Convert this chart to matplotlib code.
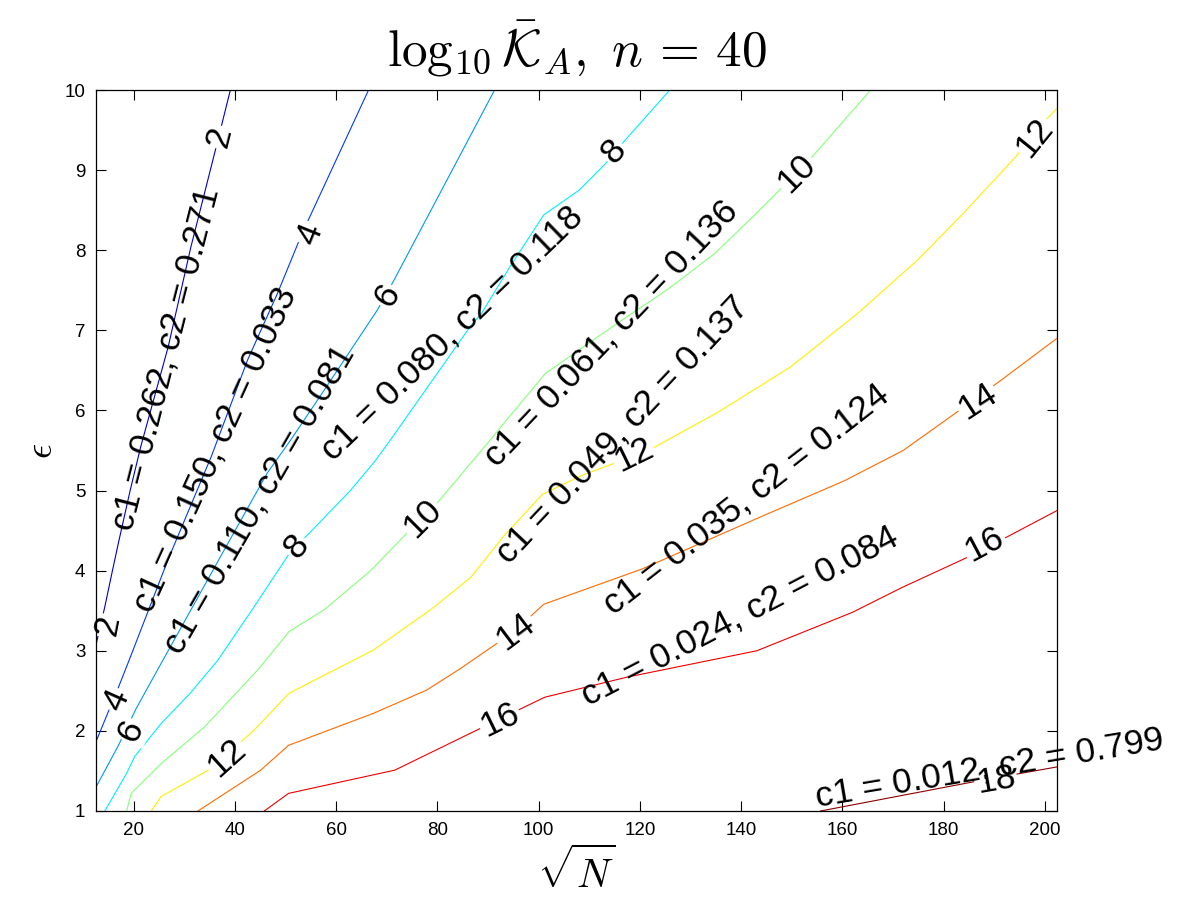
import matplotlib
matplotlib.use("Agg")
import matplotlib.pyplot as plt

plt.rcParams['mathtext.fontset'] = 'cm'
plt.rcParams['font.family'] = ['Liberation Sans', 'DejaVu Sans']

# ---------------- data ----------------
levels = [2, 4, 6, 8, 10, 12, 14, 16, 18]

x_2 = [12.65, 14.3, 15.8, 17.1, 19.3, 21.4, 26.8, 31.3, 36.3, 39.1]
y_2 = [3.10, 3.55, 4.00, 4.38, 5.00, 5.55, 6.79, 8.04, 9.29, 10.0]

x_4 = [12.65, 14.6, 16.9, 18.9, 22.7, 26.8, 35.3, 42.5, 48.4, 53.2, 66.4]
y_4 = [1.88, 2.18, 2.53, 2.85, 3.47, 4.14, 5.42, 6.63, 7.46, 8.20, 10.0]

x_6 = [12.65, 17.0, 20.5, 25.4, 31.3, 37.9, 46.4, 51.0, 57.6, 68.1, 70.7, 91.3]
y_6 = [1.31, 1.82, 2.28, 2.84, 3.51, 4.26, 5.22, 5.63, 6.25, 7.25, 7.54, 10.0]

x_8 = [14.3, 18.6, 20.2, 25.4, 31.3, 36.6, 43.8, 50.6, 62.8, 67.7, 70.7, 86.4, 88.7,
       94.3, 101.0, 108.0, 113.2, 116.2, 125.9]
y_8 = [1.00, 1.47, 1.68, 2.09, 2.48, 2.88, 3.55, 4.20, 5.00, 5.37, 5.63, 7.04, 7.21,
       7.79, 8.44, 8.75, 9.08, 9.31, 10.0]

x_10 = [18.6, 19.5, 25.4, 34.0, 44.5, 50.7, 57.6, 66.8, 74.0, 79.9, 88.7, 90.4, 101.3,
        111.7, 118.4, 125.9, 134.8, 143.0, 148.2, 153.4, 165.6]
y_10 = [1.00, 1.22, 1.59, 2.05, 2.76, 3.24, 3.51, 4.00, 4.47, 4.84, 5.50, 5.63, 6.46,
        6.92, 7.21, 7.53, 7.96, 8.46, 8.79, 9.12, 10.0]

x_12 = [23.5, 25.4, 35.3, 43.8, 50.7, 67.4, 78.6, 86.5, 93.1, 100.7, 108.2, 122.0,
        135.5, 149.7, 163.0, 174.9, 183.9, 194.3, 199.5, 202.4]
y_12 = [1.00, 1.18, 1.53, 2.01, 2.47, 3.01, 3.51, 3.91, 4.43, 4.95, 5.18, 5.51,
        5.98, 6.54, 7.21, 7.88, 8.46, 9.17, 9.58, 9.77]

x_14 = [32.7, 45.1, 50.6, 67.4, 77.9, 84.6, 92.4, 97.7, 101.0, 108.9, 120.4, 143.8,
        160.5, 172.0, 183.1, 191.3, 202.4]
y_14 = [1.00, 1.51, 1.82, 2.22, 2.51, 2.78, 3.12, 3.39, 3.58, 3.76, 4.02, 4.67,
        5.125, 5.50, 6.00, 6.375, 6.90]

x_16 = [45.8, 50.6, 71.6, 89.1, 101.2, 117.4, 143.1, 162.0, 171.8, 186.2, 202.4]
y_16 = [1.00, 1.22, 1.51, 2.05, 2.42, 2.67, 3.00, 3.48, 3.79, 4.21, 4.75]

x_18 = [155.7, 186.4, 202.4]
y_18 = [1.00, 1.37, 1.55]

line_xs = [x_2, x_4, x_6, x_8, x_10, x_12, x_14, x_16, x_18]
line_ys = [y_2, y_4, y_6, y_8, y_10, y_12, y_14, y_16, y_18]

# inline contour level labels
lab_text = ['2', '2', '4', '4', '6', '6', '8', '8', '10', '10',
            '12', '12', '12', '14', '14', '16', '16', '18']
lab_x = [37.0, 14.8, 54.8, 16.7, 70.1, 19.4, 114.9, 52.2, 151.0, 77.1,
         198.0, 118.7, 38.3, 186.7, 95.4, 188.0, 92.3, 190.3]
lab_y = [9.41, 3.31, 8.20, 2.38, 7.43, 2.00, 9.23, 4.30, 8.96, 4.65,
         9.41, 5.45, 1.67, 6.12, 3.24, 4.33, 2.14, 1.39]
lab_rot = [76, 79, 68, 66, 58, 65, 49, 50, 45, 45,
           51, 26, 42, 33, 37, 28, 26, 10]

# c1 / c2 annotations
c1_vals = ['0.262', '0.150', '0.110', '0.080', '0.061', '0.049', '0.035', '0.024', '0.012']
c2_vals = ['0.271', '0.033', '0.081', '0.118', '0.136', '0.137', '0.124', '0.084', '0.799']
ann_x = [26.3, 36.1, 44.8, 83.0, 114.3, 116.5, 141.0, 139.7, 189.0]
ann_y = [6.64, 5.51, 4.89, 6.96, 6.96, 5.76, 4.89, 3.43, 1.54]
ann_rot = [75.7, 65.6, 60.0, 44.0, 46.5, 46.8, 38.0, 27.5, 9.5]

x_ticks = [20, 40, 60, 80, 100, 120, 140, 160, 180, 200]
y_ticks = [1, 2, 3, 4, 5, 6, 7, 8, 9, 10]

# ---------------- style ----------------
level_colors = ['#0000cc', '#0038ff', '#0095ff', '#00eeff', '#85ff7a',
                '#ffee00', '#ff6a00', '#ee0000', '#8c0000']

fig = plt.figure(figsize=(12, 9.01), dpi=100)
ax = fig.add_axes([0.0804, 0.0999, 0.8004, 0.8002])

for xs, ys, col in zip(line_xs, line_ys, level_colors):
    ax.plot(xs, ys, color=col, lw=0.8, zorder=2)

for t, x, y, r in zip(lab_text, lab_x, lab_y, lab_rot):
    ax.text(x, y, t, fontsize=25.5, rotation=r, rotation_mode='anchor',
            ha='center', va='center', zorder=3,
            bbox=dict(boxstyle='square,pad=0.05', fc='white', ec='none'))

for c1, c2, x, y, r in zip(c1_vals, c2_vals, ann_x, ann_y, ann_rot):
    ax.text(x, y, f'c1 = {c1}, c2 = {c2}', fontsize=25.5, rotation=r,
            rotation_mode='anchor', ha='center', va='center', zorder=4)

ax.set_xlim(12.65, 202.4)
ax.set_ylim(1, 10)
ax.set_xticks(x_ticks)
ax.set_yticks(y_ticks)
ax.tick_params(direction='in', top=True, right=True, length=7, width=0.8,
               labelsize=13.5, pad=8)
for s in ax.spines.values():
    s.set_linewidth(0.9)
    s.set_zorder(5)

ax.set_title(r'$\log_{10}\bar{\mathcal{K}}_A,\ n\,=\,40$', fontsize=37, pad=17)
ax.set_xlabel(r'$\sqrt{N}$', fontsize=29, labelpad=6)
ax.set_ylabel(r'$\epsilon$', fontsize=27, labelpad=3)

fig.savefig('out.png', dpi=100, facecolor='white')
